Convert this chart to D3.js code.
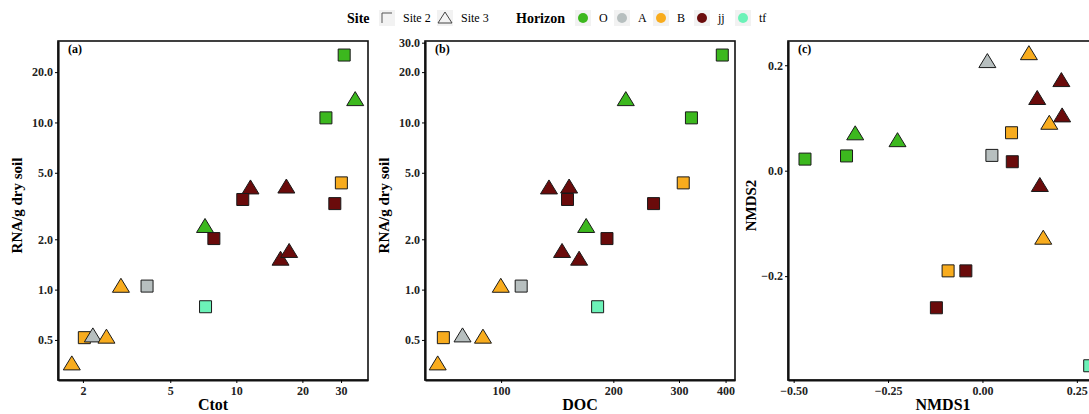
<!DOCTYPE html>
<html>
<head>
<meta charset="utf-8">
<script src="https://cdn.jsdelivr.net/npm/d3@7"></script>
<style>
  body { margin: 0; background: #fff; }
  svg text { font-family: "Liberation Serif", "DejaVu Serif", serif; }
</style>
</head>
<body>
<div id="chart"></div>
<script>
// page size
const svgWidth = 1089;
const svgHeight = 414;

// sample table, one entry per sample
const site    = ["2","3","2","2","3","3","2","2","3","2","3","3","3","2","2","2","3","3","3"];
const horizon = ["O","O","O","B","jj","jj","jj","jj","O","jj","jj","jj","B","A","tf","B","A","B","B"];
const ctot    = [31.0,34.8,25.6,30.1,11.6,16.9,10.7,28.1,7.2,7.9,15.9,17.4,2.98,3.92,7.24,2.03,2.22,2.56,1.78];
const doc     = [392,216,324,308,134.4,152.2,150.7,256.4,169.1,192.3,161.9,145.7,99.8,113.2,181.5,70.0,78.8,89.4,67.6];
const rna     = [25.3,13.6,10.65,4.35,4.03,4.08,3.46,3.27,2.37,2.02,1.51,1.68,1.04,1.05,0.79,0.516,0.525,0.516,0.357];
const nmds1   = [-0.470,-0.337,-0.360,0.077,0.209,0.145,0.079,-0.044,-0.225,-0.122,0.211,0.152,0.123,0.025,0.284,-0.091,0.013,0.177,0.161];
const nmds2   = [0.022,0.069,0.028,0.072,0.170,0.136,0.017,-0.190,0.056,-0.260,0.103,-0.029,0.221,0.029,-0.370,-0.190,0.206,0.089,-0.129];

// legend / colour categories
const horizons = ["O","A","B","jj","tf"];
const horizonColors = ["#3cb81e","#b7bfbf","#f8ac1e","#6a0b0b","#6cf2b8"];
const sites = ["2","3"];

// tick labels
const rnaTicksA = [0.5,1,2,5,10,20];
const rnaTicksB = [0.5,1,2,5,10,20,30];
const ctotTicks = [2,5,10,20,30];
const docTicks = [100,200,300,400];
const nmds1Ticks = [-0.5,-0.25,0,0.25];
const nmds2Ticks = [-0.2,0,0.2];

const samples = site.map((s, i) => ({
    site: s, horizon: horizon[i], ctot: ctot[i], doc: doc[i], rna: rna[i], nmds1: nmds1[i], nmds2: nmds2[i]
}));

const color = d3.scaleOrdinal().domain(horizons).range(horizonColors);

const svg = d3.select("#chart").append("svg")
    .attr("width", svgWidth)
    .attr("height", svgHeight);

// top and bottom of every panel
const plotTop = 41, plotBottom = 380;
const panelWidth = 310;

// shape path, centred on 0,0
function shapePath(s) {
    if (s === "2") return "M-6,-6H6V6H-6Z";
    return "M0,-8.5L8.5,5.5H-8.5Z";
}

// one panel
function drawPanel(p) {
    const g = svg.append("g");
    const x = p.x.range([p.left, p.left + panelWidth]);
    const y = p.y.range([plotBottom, plotTop]);

    // clip so the right panel is cut like the picture
    const clipId = "clip" + p.label;
    svg.append("clipPath").attr("id", clipId)
        .append("rect").attr("x", p.left).attr("y", plotTop).attr("width", panelWidth).attr("height", plotBottom - plotTop);

    g.append("g")
        .attr("clip-path", `url(#${clipId})`)
        .selectAll("path")
        .data(samples)
        .enter()
        .append("path")
        .attr("d", d => shapePath(d.site))
        .attr("transform", d => `translate(${x(p.xv(d))},${y(p.yv(d))})`)
        .attr("fill", d => color(d.horizon))
        .attr("stroke", "#1a1a1a")
        .attr("stroke-width", 1);

    // frame
    g.append("rect")
        .attr("x", p.left).attr("y", plotTop)
        .attr("width", panelWidth).attr("height", plotBottom - plotTop)
        .attr("fill", "none").attr("stroke", "#111").attr("stroke-width", 1.6);

    const xAxis = g.append("g")
        .attr("transform", `translate(0,${plotBottom})`)
        .call(d3.axisBottom(x).tickValues(p.xTicks).tickFormat(p.xFmt).tickSize(3).tickSizeOuter(0));
    const yAxis = g.append("g")
        .attr("transform", `translate(${p.left},0)`)
        .call(d3.axisLeft(y).tickValues(p.yTicks).tickFormat(p.yFmt).tickSize(3).tickSizeOuter(0));
    [xAxis, yAxis].forEach(a => {
        a.select(".domain").attr("stroke", "#111").attr("stroke-width", 2.2);
        a.selectAll("text").attr("font-size", 12).attr("font-weight", "bold").attr("fill", "#222");
    });
    yAxis.selectAll("text").attr("x", -5);

    g.append("text")
        .text(`(${p.label})`)
        .attr("x", p.left + 10).attr("y", plotTop + 12)
        .attr("font-size", 12).attr("font-weight", "bold");

    g.append("text")
        .text(p.xTitle)
        .attr("x", p.left + panelWidth / 2).attr("y", 410)
        .attr("text-anchor", "middle")
        .attr("font-size", 16).attr("font-weight", "bold");

    g.append("text")
        .text(p.yTitle)
        .attr("transform", `translate(${p.left - p.titleGap},${(plotTop + plotBottom) / 2 - 5}) rotate(-90)`)
        .attr("text-anchor", "middle")
        .attr("font-size", 15).attr("font-weight", "bold");
}

const fmt1 = d3.format(".1f");

drawPanel({
    label: "a", left: 58, titleGap: 36,
    x: d3.scaleLog().domain([1.54, 39.8]), y: d3.scaleLog().domain([0.288, 30.7]),
    xv: d => d.ctot, yv: d => d.rna,
    xTicks: ctotTicks, yTicks: rnaTicksA, xFmt: d3.format("d"), yFmt: fmt1,
    xTitle: "Ctot", yTitle: "RNA/g dry soil"
});

drawPanel({
    label: "b", left: 425, titleGap: 36,
    x: d3.scaleLog().domain([62.5, 424]), y: d3.scaleLog().domain([0.288, 30.7]),
    xv: d => d.doc, yv: d => d.rna,
    xTicks: docTicks, yTicks: rnaTicksB, xFmt: d3.format("d"), yFmt: fmt1,
    xTitle: "DOC", yTitle: "RNA/g dry soil"
});

drawPanel({
    label: "c", left: 788, titleGap: 32,
    x: d3.scaleLinear().domain([-0.515, 0.306]), y: d3.scaleLinear().domain([-0.397, 0.246]),
    xv: d => d.nmds1, yv: d => d.nmds2,
    xTicks: nmds1Ticks, yTicks: nmds2Ticks, xFmt: d3.format(".2f"), yFmt: fmt1,
    xTitle: "NMDS1", yTitle: "NMDS2"
});

// legend on top
const legend = svg.append("g").attr("transform", "translate(0,18)");
legend.append("text").text("Site")
    .attr("x", 347).attr("y", 5)
    .attr("font-size", 14).attr("font-weight", "bold");

const siteX = [387, 445];
sites.forEach((s, i) => {
    legend.append("rect")
        .attr("x", siteX[i] - 8).attr("y", -8).attr("width", 16).attr("height", 16)
        .attr("fill", "#f2f2f2");
    if (s === "2") {
        legend.append("path").attr("d", `M${siteX[i] - 5},5V-5H${siteX[i] + 5}`)
            .attr("fill", "none").attr("stroke", "#555").attr("stroke-width", 1);
    } else {
        legend.append("path").attr("d", `M${siteX[i]},-6L${siteX[i] + 7},5H${siteX[i] - 7}Z`)
            .attr("fill", "none").attr("stroke", "#444").attr("stroke-width", 1);
    }
    legend.append("text").text("Site " + s)
        .attr("x", siteX[i] + 16).attr("y", 4)
        .attr("font-size", 12);
});

legend.append("text").text("Horizon")
    .attr("x", 516).attr("y", 5)
    .attr("font-size", 14).attr("font-weight", "bold");

const horX = [583, 622, 661, 702, 743];
horizons.forEach((h, i) => {
    legend.append("rect")
        .attr("x", horX[i] - 8).attr("y", -8).attr("width", 16).attr("height", 16)
        .attr("fill", "#f2f2f2");
    legend.append("circle")
        .attr("cx", horX[i]).attr("cy", 0).attr("r", 5)
        .attr("fill", color(h));
    legend.append("text").text(h)
        .attr("x", horX[i] + 16).attr("y", 4)
        .attr("font-size", 12);
});
</script>
</body>
</html>
